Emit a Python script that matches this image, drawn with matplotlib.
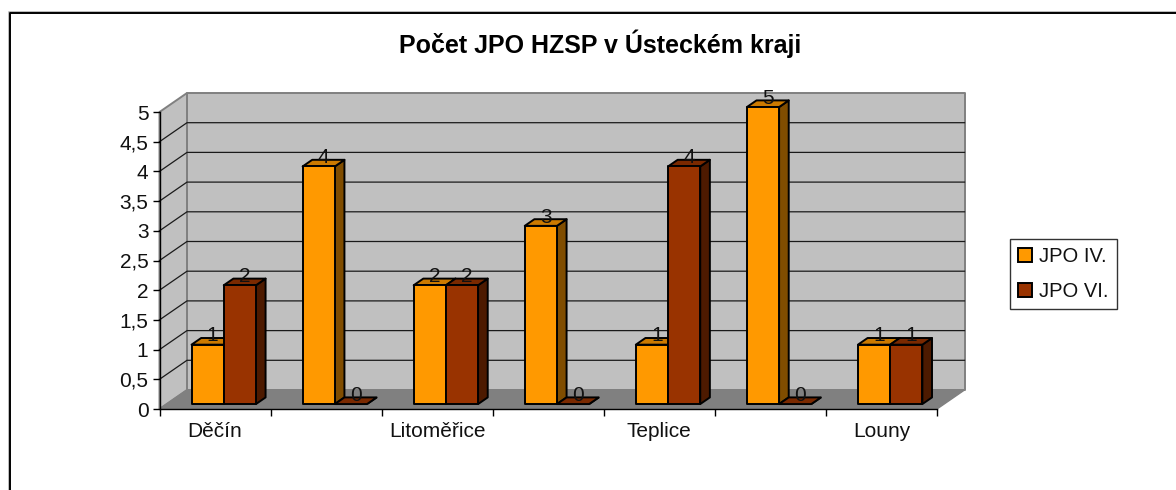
import matplotlib
matplotlib.use('Agg')
import matplotlib.pyplot as plt
from matplotlib.patches import Polygon, Patch

categories = ['Děčín', '', 'Litoměřice', '', 'Teplice', '', 'Louny']
jpo_iv = [1, 4, 2, 3, 1, 5, 1]
jpo_vi = [2, 0, 2, 0, 4, 0, 1]
y_ticks = [0, 0.5, 1, 1.5, 2, 2.5, 3, 3.5, 4, 4.5, 5]
y_labels = ['0', '0,5', '1', '1,5', '2', '2,5', '3', '3,5', '4', '4,5', '5']

W, H = 1176, 490
# pixel box of the front plane
LEFT, RIGHT, TOP, BOTTOM = 159.5, 937.0, 112.0, 409.0
# depth of the box, in data units (27 px across, 19 px up)
DX = 27.5 / ((RIGHT - LEFT) / len(categories))
DY = 19.0 / ((BOTTOM - TOP) / 5)
BAR_W = 0.29
BAR_D0, BAR_D1 = 0.26, 0.61
FS = 15

plt.rcParams['font.family'] = ['Liberation Sans', 'DejaVu Sans']
fig = plt.figure(figsize=(W / 100, H / 100), dpi=100)
ax = fig.add_axes([LEFT / W, 1 - BOTTOM / H, (RIGHT - LEFT) / W, (BOTTOM - TOP) / H])
ax.set_xlim(0, len(categories))
ax.set_ylim(0, 5)
ax.patch.set_visible(False)


def pt(x, y, d):
    # oblique projection, d=0 is the front plane and d=1 the back wall
    return (x + d * DX, y + d * DY)


def poly(points, face, edge, lw=1.0, z=2):
    ax.add_patch(Polygon(points, closed=True, facecolor=face, edgecolor=edge,
                         linewidth=lw, zorder=z, clip_on=False, joinstyle='round'))


def shade(c, f):
    rgb = matplotlib.colors.to_rgb(c)
    return tuple(v * f for v in rgb)


n = len(categories)
# walls and floor
poly([pt(0, 0, 1), pt(n, 0, 1), pt(n, 5, 1), pt(0, 5, 1)], '#C0C0C0', '#808080', 1.4, 1)
poly([pt(0, 0, 0), pt(0, 0, 1), pt(0, 5, 1), pt(0, 5, 0)], '#C0C0C0', '#808080', 1.4, 1)
poly([pt(0, 0, 0), pt(n, 0, 0), pt(n, 0, 1), pt(0, 0, 1)], '#808080', '#808080', 1.0, 1)

for v in y_ticks[1:-1]:
    a, b, c = pt(0, v, 0), pt(0, v, 1), pt(n, v, 1)
    ax.plot([a[0], b[0], c[0]], [a[1], b[1], c[1]], color='#1a1a1a', lw=0.9,
            zorder=1.5, clip_on=False)


def bar3d(x0, value, color, z):
    x1 = x0 + BAR_W
    d0, d1 = BAR_D0, BAR_D1
    poly([pt(x1, 0, d0), pt(x1, 0, d1), pt(x1, value, d1), pt(x1, value, d0)], shade(color, 0.5), 'black', 1.4, z)
    poly([pt(x0, value, d0), pt(x1, value, d0), pt(x1, value, d1), pt(x0, value, d1)], shade(color, 0.8), 'black', 1.4, z)
    if value > 0:
        poly([pt(x0, 0, d0), pt(x1, 0, d0), pt(x1, value, d0), pt(x0, value, d0)], color, 'black', 1.4, z + 0.1)
    tx, ty = pt(x0 + BAR_W / 2, value, (d0 + d1) / 2)
    ax.text(tx, ty, str(value), ha='center', va='baseline', fontsize=FS,
            color='#111111', zorder=30)


for i in range(n):
    start = i + 0.514 - BAR_W
    bar3d(start, jpo_iv[i], '#FF9900', 3 + i * 2)
    bar3d(start + BAR_W, jpo_vi[i], '#993300', 3.5 + i * 2)

# axes
for s in ['top', 'right']:
    ax.spines[s].set_visible(False)
for s in ['left', 'bottom']:
    ax.spines[s].set_color('black')
    ax.spines[s].set_linewidth(1.0)
    ax.spines[s].set_zorder(2.5)
ax.set_yticks(y_ticks)
ax.set_yticklabels(y_labels, fontsize=FS, color='#111111')
ax.set_xticks(range(n + 1))
ax.set_xticklabels([])
ax.set_xticks([i + 0.5 for i in range(n)], minor=True)
ax.set_xticklabels(categories, minor=True, fontsize=FS, color='#111111')
ax.tick_params(axis='x', which='major', length=5, width=1, color='black')
ax.tick_params(axis='x', which='minor', length=0, pad=9)
ax.tick_params(axis='y', length=5, width=1, color='black', pad=3)

fig.text(600 / W, 1 - 53 / H, 'Počet JPO HZSP v Ústeckém kraji', ha='center', va='baseline',
         fontsize=18, fontweight='bold', color='black')

# outer border, only top and left are in frame
for off, col in ((-1, '#BBBBBB'), (0, 'black')):
    fig.add_artist(plt.Line2D([(10 + off) / W, (10 + off) / W, 1],
                              [0, 1 - (13.5 + off) / H, 1 - (13.5 + off) / H],
                              color=col, lw=1.4, transform=fig.transFigure))

handles = [Patch(facecolor='#FF9900', edgecolor='black', linewidth=1.4, label='JPO IV.'),
           Patch(facecolor='#993300', edgecolor='black', linewidth=1.4, label='JPO VI.')]
leg = fig.legend(handles=handles, loc='upper left',
                 bbox_to_anchor=(1010 / W, 1 - 238.7 / H), bbox_transform=fig.transFigure,
                 fontsize=14.5, frameon=True, fancybox=False, edgecolor='#333333', framealpha=1,
                 handlelength=0.65, handleheight=0.65, handletextpad=0.35, labelspacing=0.78,
                 borderpad=0.42, borderaxespad=0, labelcolor='#111111')
leg.get_frame().set_linewidth(1.0)

fig.savefig('out.png', dpi=100)
